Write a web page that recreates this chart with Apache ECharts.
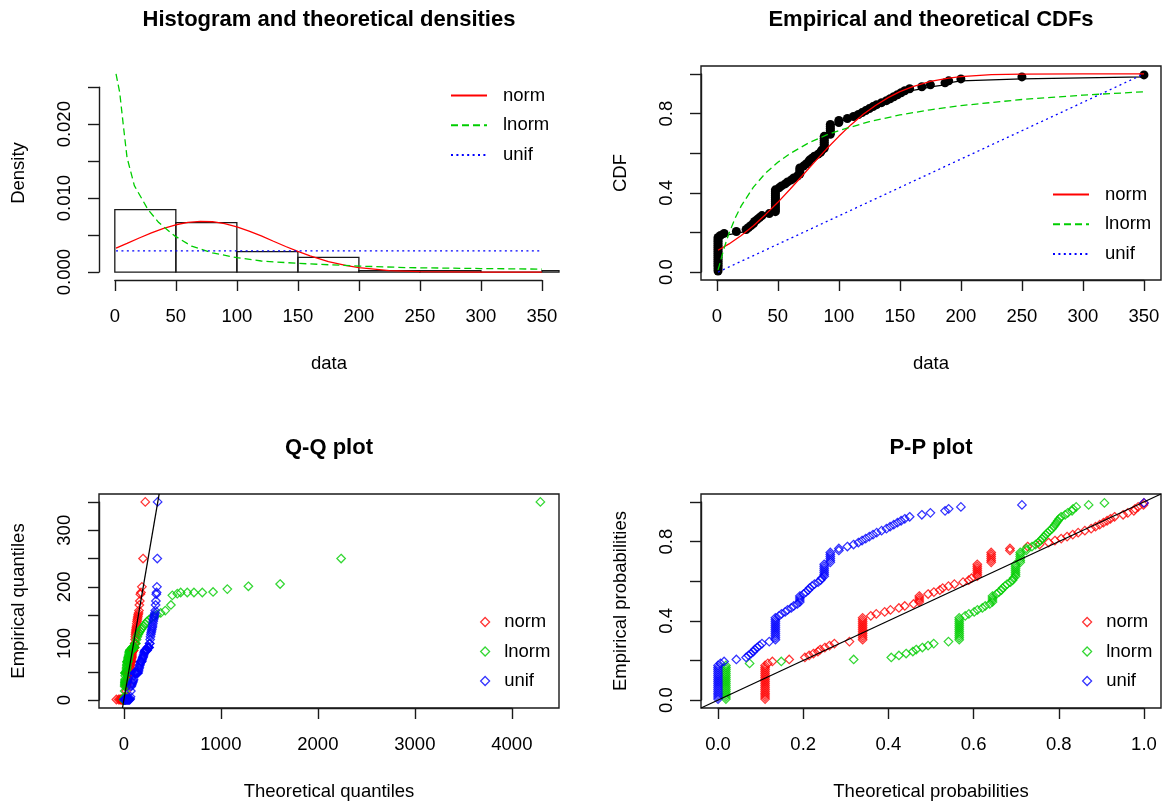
<!DOCTYPE html>
<html><head><meta charset="utf-8">
<script src="https://cdn.jsdelivr.net/npm/echarts@6/dist/echarts.min.js"></script>
<style>html,body{margin:0;padding:0;background:#fff}#c{width:1164px;height:804px}</style>
</head><body><div id="c"></div>
<script>
// ================= DATA =================
// Histogram (panel 1)
const histBreaks  = [0, 50, 100, 150, 200, 250, 300, 350, 400];
const histDensity = [0.00846, 0.00669, 0.00276, 0.00200, 0.00019, 0.00019, 0, 0.00019];
// Theoretical densities (panel 1)
const densNormX  = [1,10,20,30,40,50,60,70,80,90,100,110,120,130,140,150,160,175,190,200,225,250,300,350];
const densNormY  = [0.00324,0.00388,0.00461,0.00530,0.00590,0.00640,0.00673,0.00687,0.00681,0.00656,0.00612,0.00555,0.00489,0.00417,0.00346,0.00279,0.00218,0.00142,0.00087,0.00060,0.00021,0.00006,0.00000,0.00000];
const densLnormX = [1,4,7,10,16,27,36,49,63,80,100,120,150,200,240,300,350];
const densLnormY = [0.0268,0.0243,0.0198,0.0155,0.0117,0.0085,0.0067,0.0049,0.0035,0.0026,0.00195,0.0015,0.00118,0.00081,0.0006,0.00048,0.0004];
const densUnifX  = [1, 350];
const densUnifY  = [0.002865, 0.002865];
// Theoretical CDFs (panel 2)
const cdfNormX  = [1,10,20,30,40,50,60,70,80,90,100,110,120,130,140,150,160,175,190,200,225,250,300,350];
const cdfNormY  = [0.110,0.142,0.185,0.234,0.291,0.352,0.418,0.486,0.555,0.622,0.685,0.744,0.796,0.841,0.879,0.911,0.935,0.962,0.979,0.986,0.996,0.999,1.0,1.0];
const cdfLnormX = [1,2,4,6,8,10,15,20,30,40,50,60,75,90,100,125,150,175,200,250,300,350];
const cdfLnormY = [0.011,0.032,0.078,0.121,0.160,0.196,0.272,0.334,0.429,0.500,0.554,0.598,0.651,0.692,0.714,0.759,0.793,0.819,0.840,0.871,0.893,0.910];
const cdfUnifX  = [1, 350];
const cdfUnifY  = [0, 1];
// Empirical sample (distinct sorted values and how many times each occurs)
const sampleValues = [1,3,6,16,24,26,28,30,31,33,35,37,43,48,51,53,56,58,61,63,66,68,71,73,75,76,78,80,83,85,86,88,93,100,107,112,116,119,122,125,128,131,135,139,142,145,148,151,154,158,168,175,187,190,200,250,350];
const sampleCounts = [18,1,1,1,1,1,1,1,1,1,1,1,1,12,1,1,1,1,1,1,1,4,1,1,1,1,1,1,1,1,1,7,6,2,1,1,1,1,1,1,1,1,1,1,1,1,1,1,1,1,1,1,1,1,1,1,1];
// P-P theoretical probabilities, one per distinct sample value
const ppNorm  = [0.1105,0.1170,0.1276,0.1671,0.2039,0.2139,0.2240,0.2345,0.2398,0.2507,0.2617,0.2732,0.3085,0.3395,0.3587,0.3715,0.3913,0.4048,0.4247,0.4384,0.4590,0.4725,0.4932,0.5068,0.5207,0.5275,0.5410,0.5549,0.5753,0.5886,0.5952,0.6087,0.6413,0.6854,0.7268,0.7549,0.7760,0.7910,0.8057,0.8196,0.8329,0.8455,0.8613,0.8760,0.8863,0.8960,0.9049,0.9134,0.9213,0.9310,0.9510,0.9621,0.9763,0.9790,0.9863,0.9989,1.0000];
const ppLnorm = [0.0185,0.0741,0.1485,0.3185,0.4067,0.4247,0.4416,0.4574,0.4653,0.4797,0.4932,0.5064,0.5410,0.5663,0.5804,0.5890,0.6014,0.6091,0.6206,0.6274,0.6380,0.6443,0.6536,0.6595,0.6653,0.6682,0.6736,0.6787,0.6865,0.6915,0.6936,0.6985,0.7095,0.7237,0.7370,0.7454,0.7521,0.7568,0.7611,0.7655,0.7697,0.7737,0.7791,0.7841,0.7879,0.7913,0.7945,0.7979,0.8012,0.8054,0.8149,0.8212,0.8312,0.8335,0.8409,0.8701,0.9072];
const ppUnif  = [0,0.0057,0.0143,0.0430,0.0659,0.0716,0.0774,0.0831,0.0860,0.0917,0.0974,0.1032,0.1203,0.1347,0.1433,0.1490,0.1576,0.1633,0.1719,0.1777,0.1862,0.1920,0.2006,0.2063,0.2120,0.2149,0.2206,0.2264,0.2350,0.2407,0.2436,0.2493,0.2636,0.2837,0.3037,0.3181,0.3295,0.3381,0.3467,0.3553,0.3639,0.3725,0.3840,0.3954,0.4040,0.4126,0.4212,0.4298,0.4384,0.4499,0.4785,0.4986,0.5330,0.5415,0.5702,0.7135,1.0];
// Q-Q theoretical quantiles, one per sorted observation
const qqNormX = [-77,-54,-42,-33,-26,-21,-16,-12,-8,-4,-1,2,5,8,11,13,15,18,20,22,24,26,28,30,32,34,36,37,39,41,42,44,46,47,49,50,52,54,55,57,58,60,61,62,64,65,67,68,70,71,73,74,76,77,79,80,82,83,84,86,87,89,90,92,94,95,97,98,100,102,103,105,107,108,110,112,114,116,118,120,122,124,126,129,131,133,136,139,142,145,148,152,156,160,165,170,177,186,198,221];
const qqLnormX = [0.43,0.87,1.24,1.60,1.96,2.31,2.67,3.03,3.41,3.79,4.18,4.58,4.99,5.41,5.85,6.30,6.76,7.23,7.73,8.22,8.74,9.28,9.85,10.4,11.0,11.6,12.2,12.9,13.6,14.3,15.0,15.7,16.5,17.3,18.2,19.0,19.9,20.8,21.8,22.8,23.9,24.9,26.0,27.2,28.4,29.7,31.0,32.3,33.8,35.2,36.8,38.4,40.1,41.9,43.7,45.6,47.7,49.8,52.1,54.4,56.9,59.5,62.3,65.2,68.2,71.5,74.9,78.6,82.4,86.5,90.9,95.6,100.6,106.0,111.7,117.8,124.5,131.8,139.8,148.4,157.8,167.8,179.5,191.9,206.0,221.8,239.6,259.8,283.1,310.6,342.5,380.2,427.5,485.4];
const qqLnormTailX = [500,551,586,654,723,809,920,1067,1284,1611,2240,4294];
const qqLnormTailY = [185,188,190,190,190,190,191,196,201,205,250,350];
const qqUnifX = [2.7,6.2,9.7,13.2,16.7,20.2,23.7,27.2,30.7,34.2,37.6,41.1,44.6,48.1,51.6,55.1,58.6,62.1,65.6,69.1,72.5,76.0,79.5,83.0,86.5,90.0,93.5,97.0,100.5,104.0,107.4,110.9,114.4,117.9,121.4,124.9,128.4,131.9,135.4,138.9,142.3,145.8,149.3,152.8,156.3,159.8,163.3,166.8,170.3,173.8,177.2,180.7,184.2,187.7,191.2,194.7,198.2,201.7,205.2,208.7,212.1,215.6,219.1,222.6,226.1,229.6,233.1,236.6,240.1,243.6,247.0,250.5,254.0,257.5,261.0,264.5,268.0,271.5,275.0,278.5,281.9,285.4,288.9,292.4,295.9,299.4,302.9,306.4,309.9,313.4,316.8,320.3,323.8,327.3,330.8,334.3,337.8,341.3,344.8,348.3];
// Tick labels
const dataTickLabels = [[0,'0'],[50,'50'],[100,'100'],[150,'150'],[200,'200'],[250,'250'],[300,'300'],[350,'350']];
const densTickLabels = [[0,'0.000'],[0.01,'0.010'],[0.02,'0.020']];
const probTickLabels = [[0,'0.0'],[0.4,'0.4'],[0.8,'0.8']];
const probXTickLabels = [[0,'0.0'],[0.2,'0.2'],[0.4,'0.4'],[0.6,'0.6'],[0.8,'0.8'],[1,'1.0']];
const qqXTickLabels = [[0,'0'],[1000,'1000'],[2000,'2000'],[3000,'3000'],[4000,'4000']];
const qqYTickLabels = [[0,'0'],[100,'100'],[200,'200'],[300,'300']];
const legendNames = ['norm', 'lnorm', 'unif'];

// ================= BUILD =================
const FONT = '"Liberation Sans", Arial, Helvetica, sans-serif';
const FS = 18.5;
const RED = '#FF0000', GREEN = '#00CD00', BLUE = '#0000FF';
const txt = {fontFamily: FONT, fontSize: FS, color: '#000'};

const sample = [];
sampleValues.forEach((v, k) => { for (let j = 0; j < sampleCounts[k]; j++) sample.push(v); });
const n = sample.length;
const pairs = (xs, ys) => xs.map((x, i) => [x, ys[i]]);
const ecdfPts = sample.map((v, i) => [v, (i + 0.5) / n]);
function ppPts(probs) {
  const out = []; let i = 0;
  sampleValues.forEach((v, k) => { for (let j = 0; j < sampleCounts[k]; j++) { out.push([probs[k], (i + 0.5) / n]); i++; } });
  return out;
}
const qqNormPts = qqNormX.map((x, i) => [x, sample[i]]);
const qqUnifPts = qqUnifX.map((x, i) => [x, sample[i]]);
const qqLnormPts = qqLnormX.map((x, i) => [x, sample[i]]).concat(pairs(qqLnormTailX, qqLnormTailY));

const panels = [
  {left: 99, top: 66, width: 460, height: 214, box: false, xr: [-12.96, 363.96], yr: [-0.00107, 0.02787], xt: [0, 350, 50], yt: [0, 0.025, 0.005], xl: dataTickLabels, yl: densTickLabels, xName: 'data', yName: 'Density', title: 'Histogram and theoretical densities'},
  {left: 701, top: 66, width: 460, height: 214, box: true, xr: [-12.96, 363.96], yr: [-0.04, 1.04], xt: [0, 350, 50], yt: [0, 1, 0.2], xl: dataTickLabels, yl: probTickLabels, xName: 'data', yName: 'CDF', title: 'Empirical and theoretical CDFs'},
  {left: 99, top: 494, width: 460, height: 214, box: true, xr: [-256, 4486], yr: [-14, 364], xt: [0, 4000, 1000], yt: [0, 350, 50], xl: qqXTickLabels, yl: qqYTickLabels, xName: 'Theoretical quantiles', yName: 'Empirical quantiles', title: 'Q-Q plot'},
  {left: 701, top: 494, width: 460, height: 214, box: true, xr: [-0.04, 1.04], yr: [-0.04, 1.04], xt: [0, 1, 0.2], yt: [0, 1, 0.2], xl: probXTickLabels, yl: probTickLabels, xName: 'Theoretical probabilities', yName: 'Empirical probabilities', title: 'P-P plot'}
];
const fmt = list => v => { const f = list.find(e => Math.abs(e[0] - v) < 1e-9); return f ? f[1] : ''; };

const AX = '#1a1a1a';
const grids = [], xAxes = [], yAxes = [], titles = [];
panels.forEach((p, k) => {
  grids.push({left: p.left, top: p.top, width: p.width, height: p.height, show: p.box, borderColor: AX, borderWidth: 1.4, backgroundColor: 'transparent'});
  const hidden = {axisLine: {show: false, onZero: false}, axisTick: {show: false}, axisLabel: {show: false}, splitLine: {show: false}, nameLocation: 'middle', nameTextStyle: txt};
  xAxes.push(Object.assign({gridIndex: k, type: 'value', min: p.xr[0], max: p.xr[1], name: p.xName, nameGap: 74}, hidden));
  yAxes.push(Object.assign({gridIndex: k, type: 'value', min: p.yr[0], max: p.yr[1], name: p.yName, nameGap: 71}, hidden));
  titles.push({text: p.title, left: p.left + p.width / 2, top: p.top - 57, padding: 0, textAlign: 'center', textStyle: {fontFamily: FONT, fontSize: 22, fontWeight: 'bold', color: '#000'}});
});
panels.forEach((p, k) => {
  const sx = p.width / (p.xr[1] - p.xr[0]), sy = p.height / (p.yr[1] - p.yr[0]);
  const aLeft = p.left + (p.xt[0] - p.xr[0]) * sx, aWidth = (p.xt[1] - p.xt[0]) * sx;
  const aTop = p.top + (p.yr[1] - p.yt[1]) * sy, aHeight = (p.yt[1] - p.yt[0]) * sy;
  grids.push({left: aLeft, top: aTop, width: aWidth, height: aHeight, show: false});
  const common = {type: 'value', axisLine: {show: true, onZero: false, lineStyle: {color: AX, width: 1.4}}, axisTick: {show: true, length: 11, lineStyle: {color: AX, width: 1.4}}, splitLine: {show: false}};
  xAxes.push(Object.assign({gridIndex: 4 + k, min: p.xt[0], max: p.xt[1], interval: p.xt[2], offset: (p.top + p.height) - (aTop + aHeight),
    axisLabel: Object.assign({margin: 27, formatter: fmt(p.xl), showMinLabel: true, showMaxLabel: true, hideOverlap: false}, txt)}, common));
  yAxes.push(Object.assign({gridIndex: 4 + k, min: p.yt[0], max: p.yt[1], interval: p.yt[2], offset: aLeft - p.left,
    axisLabel: Object.assign({margin: 25, rotate: 90, formatter: fmt(p.yl), showMinLabel: true, showMaxLabel: true, hideOverlap: false}, txt)}, common));
});

const lineS = (name, k, data, color, type) => ({name, type: 'line', xAxisIndex: k, yAxisIndex: k, data, symbol: 'none', clip: true, silent: true,
  lineStyle: {color, width: 1.3, type: type === 'dashed' ? [7, 4] : type === 'dotted' ? [2, 3.4] : 'solid'}, itemStyle: {color}});
const scatS = (name, k, data, color) => ({name, type: 'scatter', xAxisIndex: k, yAxisIndex: k, data, symbol: 'diamond', symbolSize: 8.5, silent: true,
  itemStyle: {color: 'rgba(0,0,0,0)', borderColor: color, borderWidth: 1.25}});

const histData = histDensity.map((d, i) => [histBreaks[i], histBreaks[i + 1], d]);
const series = [
  {type: 'custom', xAxisIndex: 0, yAxisIndex: 0, data: histData, silent: true,
   renderItem: (params, api) => {
     const cs = params.coordSys;
     const p0 = api.coord([api.value(0), api.value(2)]);
     const p1 = api.coord([api.value(1), 0]);
     const x0 = Math.max(p0[0], cs.x), x1 = Math.min(p1[0], cs.x + cs.width);
     if (x1 <= x0) return;
     return {type: 'rect', shape: {x: x0, y: p0[1], width: x1 - x0, height: p1[1] - p0[1]}, style: {fill: 'none', stroke: AX, lineWidth: 1.3}};
   }},
  lineS('norm', 0, pairs(densNormX, densNormY), RED, 'solid'),
  lineS('lnorm', 0, pairs(densLnormX, densLnormY), GREEN, 'dashed'),
  lineS('unif', 0, pairs(densUnifX, densUnifY), BLUE, 'dotted'),

  {name: 'ecdf-line', type: 'line', xAxisIndex: 1, yAxisIndex: 1, data: ecdfPts, step: 'end', symbol: 'none', silent: true, lineStyle: {color: '#000', width: 1.3}},
  {name: 'ecdf', type: 'scatter', xAxisIndex: 1, yAxisIndex: 1, data: ecdfPts, symbol: 'circle', symbolSize: 9, silent: true, itemStyle: {color: '#000', opacity: 1}},
  lineS('norm#cdf', 1, pairs(cdfNormX, cdfNormY), RED, 'solid'),
  lineS('lnorm#cdf', 1, pairs(cdfLnormX, cdfLnormY), GREEN, 'dashed'),
  lineS('unif#cdf', 1, pairs(cdfUnifX, cdfUnifY), BLUE, 'dotted'),

  scatS('norm#qq', 2, qqNormPts, RED),
  scatS('lnorm#qq', 2, qqLnormPts, GREEN),
  scatS('unif#qq', 2, qqUnifPts, BLUE),
  lineS('ref#qq', 2, [[panels[2].yr[0], panels[2].yr[0]], [panels[2].yr[1], panels[2].yr[1]]], '#000', 'solid'),

  scatS('norm#pp', 3, ppPts(ppNorm), RED),
  scatS('lnorm#pp', 3, ppPts(ppLnorm), GREEN),
  scatS('unif#pp', 3, ppPts(ppUnif), BLUE),
  lineS('ref#pp', 3, [[panels[3].yr[0], panels[3].yr[0]], [panels[3].yr[1], panels[3].yr[1]]], '#000', 'solid')
];

const colors = [RED, GREEN, BLUE];
const legendBase = {orient: 'vertical', padding: 0, selectedMode: false, formatter: nm => nm.split('#')[0],
  textStyle: Object.assign({padding: [0, 0, 0, 11]}, txt)};
const lineLegend = (suffix, left, top) => Object.assign({}, legendBase, {left, top, itemWidth: 36, itemHeight: 14, itemGap: 10.7,
  itemStyle: {opacity: 0, color: 'rgba(0,0,0,0)', borderColor: 'rgba(0,0,0,0)', borderWidth: 0},
  data: legendNames.map(nm => ({name: nm + suffix, itemStyle: {opacity: 0, color: 'rgba(0,0,0,0)', borderColor: 'rgba(0,0,0,0)', borderWidth: 0}}))});
const diaLegend = (suffix, left, top) => Object.assign({}, legendBase, {left, top, itemWidth: 9, itemHeight: 9, itemGap: 10.5,
  textStyle: Object.assign({padding: [0, 0, 0, 9.5]}, txt),
  data: legendNames.map((nm, i) => ({name: nm + suffix, icon: 'diamond', itemStyle: {color: 'rgba(0,0,0,0)', borderColor: colors[i], borderWidth: 1.25}}))});

const option = {
  animation: false,
  backgroundColor: '#fff',
  title: titles,
  grid: grids, xAxis: xAxes, yAxis: yAxes,
  legend: [
    lineLegend('', 450, 86),
    lineLegend('#cdf', 1052, 185),
    diaLegend('#qq', 480, 612.5),
    diaLegend('#pp', 1082, 612.5)
  ],
  series
};
const chart = echarts.init(document.getElementById('c'), null, {renderer: 'canvas'});
chart.setOption(option);
</script>
</body></html>
